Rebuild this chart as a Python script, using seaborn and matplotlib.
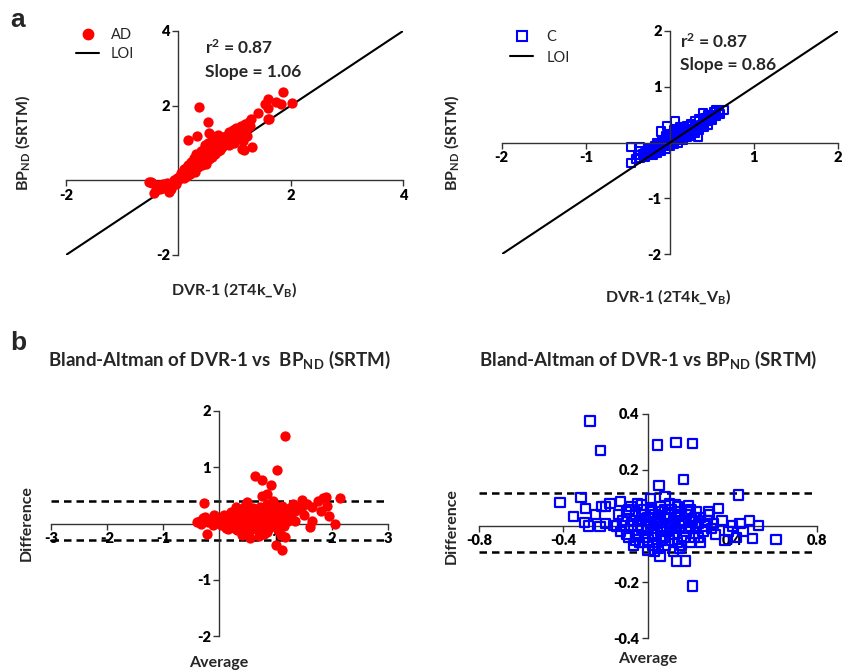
import matplotlib
matplotlib.use('Agg')
import matplotlib.pyplot as plt
from matplotlib.lines import Line2D
import seaborn as sns

# ---------------- data ----------------
# Panel a (left): AD, DVR-1 (2T4k_VB) vs BPND (SRTM)
AD_dvr = [-0.52, -0.49, -0.46, -0.43, -0.40, -0.38, -0.35, -0.32, -0.28, -0.25, -0.22, -0.20,
          -0.16, -0.15, -0.13, -0.10, -0.08, -0.05, -0.02, 0.00, 0.02, 0.05, 0.05, 0.08, 0.10,
          0.10, 0.12, 0.15, 0.15, 0.18, 0.18, 0.20, 0.22, 0.22, 0.25, 0.25, 0.28, 0.28, 0.30,
          0.30, 0.32, 0.33, 0.35, 0.35, 0.38, 0.38, 0.40, 0.40, 0.42, 0.43, 0.45, 0.45, 0.48,
          0.48, 0.50, 0.50, 0.52, 0.53, 0.55, 0.55, 0.58, 0.58, 0.60, 0.60, 0.62, 0.65, 0.65,
          0.68, 0.70, 0.70, 0.72, 0.75, 0.75, 0.78, 0.78, 0.80, 0.82, 0.85, 0.85, 0.88, 0.90,
          0.90, 0.92, 0.95, 0.95, 0.98, 1.00, 1.00, 1.02, 1.05, 1.05, 1.08, 1.10, 1.12, 1.15,
          1.15, 1.18, 1.20, 1.22, 1.25, 1.28, 1.30, 1.14, 1.17, 1.32, 1.41, 1.59, 1.62, 1.55,
          1.59, 1.74, 1.83, 1.87, 2.02, 1.60, 0.37, 0.53, 0.54, 0.58, 0.18, 0.34, 0.60, 0.70]
AD_bp = [-0.05, -0.04, -0.06, -0.33, -0.25, -0.18, -0.12, -0.22, -0.10, -0.20, -0.12, -0.06,
         -0.30, -0.12, -0.24, -0.05, 0.00, -0.10, 0.05, 0.02, 0.10, 0.08, 0.20, 0.15, 0.05,
         0.30, 0.22, 0.35, 0.12, 0.40, 0.25, 0.18, 0.50, 0.32, 0.45, 0.28, 0.60, 0.38, 0.50,
         0.22, 0.70, 0.42, 0.55, 0.35, 0.65, 0.45, 0.78, 0.58, 0.40, 0.70, 0.85, 0.52, 0.62,
         0.95, 0.75, 0.45, 1.00, 0.68, 0.85, 0.58, 0.92, 0.72, 0.62, 1.05, 0.80, 0.95, 0.70,
         0.88, 1.10, 0.78, 0.95, 1.00, 0.82, 1.15, 0.90, 1.05, 0.95, 1.20, 1.00, 1.10, 1.30,
         0.95, 1.15, 1.25, 1.05, 1.35, 1.15, 1.00, 1.40, 1.25, 1.10, 1.35, 1.20, 1.45, 1.30,
         1.05, 1.50, 1.35, 1.20, 1.55, 1.45, 1.65, 0.83, 0.81, 0.90, 1.81, 1.64, 1.64, 2.04,
         2.17, 2.10, 2.04, 2.37, 2.08, 1.95, 1.97, 1.55, 1.28, 1.01, 1.08, 1.20, 1.20, 1.22]
AD_loi = [-2, 4]

# Panel a (right): C
C_dvr = [-0.46, -0.35, -0.46, -0.40, -0.38, -0.35, -0.32, -0.30, -0.28, -0.27, -0.25, -0.24,
         -0.22, -0.20, -0.19, -0.18, -0.16, -0.15, -0.14, -0.12, -0.11, -0.10, -0.09, -0.08,
         -0.07, -0.06, -0.05, -0.04, -0.03, -0.03, -0.02, -0.01, 0.00, 0.01, 0.02, 0.03, 0.04,
         0.05, 0.06, 0.06, 0.07, 0.08, 0.09, 0.10, 0.11, 0.12, 0.13, 0.14, 0.15, 0.16, 0.17,
         0.18, 0.19, 0.20, 0.22, 0.24, 0.25, 0.27, 0.28, 0.30, 0.32, 0.34, 0.34, 0.35, 0.37,
         0.39, 0.40, 0.42, 0.44, 0.46, 0.48, 0.50, 0.53, 0.55, 0.58, 0.60, 0.64, -0.20, -0.10,
         0.00, 0.10, 0.20, 0.30, 0.40, 0.50,
         -0.30, -0.25, -0.15, -0.05, 0.05, 0.15, 0.25, 0.35, 0.45, -0.15, -0.05, 0.05, 0.15,
         0.25, 0.45, 0.55, -0.35, 0.12]
C_bp = [-0.08, -0.08, -0.37, -0.30, -0.22, -0.28, -0.20, -0.26, -0.15, -0.22, -0.18, -0.12,
        -0.20, -0.10, -0.16, -0.06, -0.14, -0.04, -0.10, -0.02, 0.20, -0.08, 0.02, -0.05,
        0.05, -0.02, 0.08, 0.00, 0.30, 0.10, 0.03, 0.12, 0.05, 0.00, 0.15, 0.06, 0.02,
        0.18, 0.38, 0.08, 0.04, 0.20, 0.10, 0.06, 0.22, 0.12, 0.08, 0.25, 0.14, 0.10, 0.28,
        0.16, 0.12, 0.30, 0.20, 0.16, 0.34, 0.24, 0.20, 0.38, 0.28, 0.11, 0.24, 0.42, 0.32,
        0.53, 0.36, 0.44, 0.38, 0.48, 0.42, 0.50, 0.55, 0.48, 0.55, 0.52, 0.59, -0.22, -0.14,
        -0.06, 0.00, 0.10, 0.18, 0.28, 0.40,
        -0.18, -0.10, -0.18, -0.12, -0.02, 0.05, 0.12, 0.22, 0.32, 0.00, 0.12, 0.22, 0.28,
        0.30, 0.50, 0.58, -0.15, 0.28]
C_loi = [-2, 2]

# Panel b (left): Bland-Altman AD
AD_avg = [1.17, 1.03, 0.64, 0.76, 0.91, 0.85, 0.76, -0.27, -0.22, -0.37, 1.00, 1.12, 1.16,
          2.14, 1.89, 1.84, 1.92, 1.95, 2.06, 1.65, 1.62, 1.47, 1.65, 0.49,
          -0.40, -0.33, -0.30, -0.25, -0.20, -0.15, -0.12, -0.10, -0.05, 0.00, 0.02, 0.05,
          0.08, 0.10, 0.12, 0.15, 0.18, 0.20, 0.22, 0.25, 0.28, 0.30, 0.32, 0.35, 0.38, 0.40,
          0.42, 0.45, 0.48, 0.50, 0.52, 0.55, 0.58, 0.60, 0.62, 0.65, 0.68, 0.70, 0.72, 0.75,
          0.78, 0.80, 0.82, 0.85, 0.88, 0.90, 0.92, 0.95, 0.98, 1.00, 1.02, 1.05, 1.08, 1.10,
          1.12, 1.15, 1.18, 1.20, 1.22, 1.25, 1.28, 1.30, 1.35, 1.40, 0.40, 0.55, 0.70, 0.30,
          0.60, 0.85, 1.10, 0.15, 0.45, 0.95, 1.75, 1.80, 1.55, 1.35,
          0.05, 0.12, 0.18, 0.25, 0.32, 0.38, 0.45, 0.52, 0.58, 0.62, 0.68, 0.72, 0.78, 0.82,
          0.88, 0.92, 0.98, 1.05, 1.12, 1.18, 1.25, 0.35, 0.55, 0.65, 0.75, 0.95, 1.15, 0.25,
          0.45, 0.85, -0.30, -0.35, 0.00, 1.45, 1.50]
AD_diff = [1.55, 0.95, 0.84, 0.77, 0.69, 0.53, 0.49, 0.36, -0.18, 0.02, -0.39, -0.47, -0.24,
           0.46, 0.47, 0.45, 0.32, 0.14, 0.00, 0.04, -0.07, 0.41, 0.29, 0.38,
           0.02, 0.00, 0.05, 0.12, 0.03, 0.08, -0.02, 0.15, 0.05, 0.10, -0.03, 0.08,
           0.15, 0.02, -0.08, 0.12, 0.05, 0.20, -0.05, 0.10, 0.02, 0.15, -0.12, 0.08, 0.25, 0.00,
           0.12, -0.08, 0.18, 0.05, -0.15, 0.10, 0.22, -0.02, 0.08, -0.10, 0.15, 0.02, 0.30, -0.05,
           0.12, -0.18, 0.20, 0.05, -0.08, 0.25, 0.10, -0.02, 0.15, 0.30, 0.05, -0.12, 0.20, 0.08,
           0.32, -0.05, 0.15, 0.25, 0.05, 0.28, 0.18, 0.35, 0.22, 0.30, -0.20, -0.25, -0.22, 0.30,
           0.28, 0.35, -0.20, -0.10, 0.32, 0.40, 0.40, 0.22, 0.35, 0.05,
           0.00, 0.05, -0.02, 0.05, 0.12, 0.05, 0.10, 0.02, 0.12, -0.05, 0.05, 0.12, 0.02, -0.08,
           0.12, 0.00, 0.08, 0.15, 0.02, 0.08, 0.12, -0.05, -0.08, 0.20, 0.18, 0.22, 0.25, -0.08,
           0.22, -0.15, 0.10, 0.05, 0.05, 0.25, 0.15]
AD_limits = [0.40, -0.29]

# Panel b (right): Bland-Altman C
C_avg = [-0.275, -0.224, 0.044, 0.133, 0.21, 0.167, 0.052, 0.427, -0.417, -0.317, -0.353, -0.30,
         -0.295, 0.606, 0.522, 0.496, 0.436, 0.364, 0.285, 0.333, 0.21, 0.136, 0.178, 0.057,
         0.0, -0.22, -0.18, -0.20, -0.13, -0.227, -0.20, -0.164, -0.03, 0.01, 0.08, 0.128, 0.19,
         -0.12, -0.10, -0.10, -0.08, -0.06, -0.06, -0.04, -0.02, -0.02, 0.00, 0.00, 0.02, 0.02,
         0.04, 0.04, 0.06, 0.06, 0.08, 0.08, 0.10, 0.10, 0.12, 0.12, 0.14, 0.14, 0.16, 0.18,
         0.18, 0.20, 0.22, 0.22, 0.24, 0.26, 0.28, 0.30, 0.05, 0.15, 0.25, -0.05, 0.10, 0.20,
         0.32, 0.38, 0.40, 0.45, 0.48, 0.42, 0.35, -0.25, -0.28, -0.15, -0.08, 0.03, 0.12,
         -0.14, -0.13, -0.11, -0.09, -0.09, -0.07, -0.07, -0.05, -0.05, -0.03, -0.03, -0.01,
         -0.01, 0.01, 0.01, 0.03, 0.03, 0.05, 0.05, 0.07, 0.07, 0.09, 0.09, 0.11, 0.11, 0.13,
         0.13, 0.15, 0.15, 0.17, 0.17, 0.19, 0.19, 0.21, 0.23, 0.23, 0.25, 0.27, 0.29, 0.31,
         0.02, 0.08, 0.16, 0.20, 0.06, 0.14, 0.24, 0.00, -0.04, 0.10]
C_diff = [0.375, 0.269, 0.289, 0.299, 0.295, 0.167, 0.144, 0.111, 0.085, 0.102, 0.033, 0.012,
          0.063, -0.048, 0.001, -0.044, 0.010, -0.050, 0.051, 0.063, -0.214, -0.125, -0.125, -0.107,
          -0.088, 0.069, 0.081, 0.070, 0.087, -0.002, 0.010, 0.003, 0.075, 0.099, 0.105, 0.075, 0.073,
          0.02, -0.03, 0.05, 0.00, -0.05, 0.04, 0.02, -0.06, 0.06, 0.00, 0.03, -0.03, 0.05,
          0.01, -0.06, 0.03, -0.02, 0.06, -0.04, 0.00, 0.04, -0.03, 0.02, 0.05, -0.06, 0.01, -0.02,
          0.04, 0.00, -0.04, 0.03, 0.01, -0.02, 0.02, -0.01, -0.08, -0.08, -0.06, 0.08, 0.08, 0.06,
          -0.03, -0.02, 0.00, -0.02, 0.02, -0.04, 0.02, 0.04, 0.00, 0.00, 0.07, -0.09, -0.09,
          0.04, -0.02, 0.00, 0.06, -0.04, 0.02, -0.07, 0.00, -0.03, 0.04, -0.01, 0.02,
          -0.04, 0.06, 0.01, -0.01, 0.04, 0.02, 0.05, 0.00, -0.05, 0.03, -0.02, 0.06, 0.01, -0.01,
          0.03, 0.00, 0.04, -0.04, 0.02, 0.05, -0.01, 0.02, 0.00, 0.05, 0.03, 0.00, 0.04, 0.01,
          -0.07, -0.07, -0.07, -0.06, 0.07, 0.07, -0.04, -0.05, -0.06, -0.05]
C_limits = [0.117, -0.094]

# ticks
AD_ticks = [-2, 2, 4]
C_ticks = [-2, -1, 1, 2]
ADba_xticks = [-3, -2, -1, 1, 2, 3]
ADba_yticks = [-2, -1, 1, 2]
Cba_xticks = [-0.8, -0.4, 0.4, 0.8]
Cba_xlabels = ['-0.8', '-0.4', '0.4', '0.8']
Cba_yticks = [-0.4, -0.2, 0.2, 0.4]
Cba_ylabels = ['-0.4', '-0.2', '0.2', '0.4']

# ---------------- style ----------------
sns.set_style('white')
plt.rcParams['font.family'] = ['Lato', 'DejaVu Sans']
plt.rcParams['font.weight'] = 'bold'
plt.rcParams['axes.labelweight'] = 'bold'
plt.rcParams['mathtext.fontset'] = 'custom'
plt.rcParams['mathtext.rm'] = 'Lato:bold'
plt.rcParams['mathtext.it'] = 'Lato:bold'
plt.rcParams['mathtext.bf'] = 'Lato:bold'
plt.rcParams['mathtext.default'] = 'rm'

W, H = 843, 670
fig = plt.figure(figsize=(W / 100, H / 100), dpi=100)


def px_axes(x0, y0, x1, y1):
    return fig.add_axes([x0 / W, 1 - y1 / H, (x1 - x0) / W, (y1 - y0) / H])


def style(ax, xlim, ylim, xt, xl, yt, yl):
    ax.set_xlim(xlim)
    ax.set_ylim(ylim)
    ax.grid(False)
    for s in ['top', 'right']:
        ax.spines[s].set_visible(False)
    for s in ['left', 'bottom']:
        ax.spines[s].set_position(('data', 0))
        ax.spines[s].set_color('#333333')
        ax.spines[s].set_linewidth(1.0)
        ax.spines[s].set_zorder(2)
    ax.set_xticks(xt)
    ax.set_xticklabels(xl, fontweight='heavy')
    ax.set_yticks(yt)
    ax.set_yticklabels(yl, fontweight='heavy')
    ax.tick_params(bottom=True, left=True, direction='out', length=4, width=1,
                   color='#333333', labelcolor='black', labelsize=10.5, pad=2)
    ax.set_facecolor('none')


# ----- a left -----
ax1 = px_axes(66, 31, 403, 255)
sns.lineplot(x=AD_loi, y=AD_loi, ax=ax1, color='black', linewidth=1.5, zorder=2)
sns.scatterplot(x=AD_dvr, y=AD_bp, ax=ax1, color='#ff0000', s=55, linewidth=0, zorder=3, legend=False)
style(ax1, (-2, 4), (-2, 4), AD_ticks, [str(t) for t in AD_ticks], AD_ticks, [str(t) for t in AD_ticks])
ax1.set_xlabel('DVR-1 (2T4k_V$_{B}$)', fontsize=11.5, fontweight='bold', ha='center', va='center')
ax1.xaxis.set_label_coords(0.50, -0.156)
ax1.set_ylabel('BP$_{ND}$ (SRTM)', fontsize=11.5, fontweight='bold', ha='center', va='center')
ax1.yaxis.set_label_coords(-0.13, 0.5)
h1 = [Line2D([], [], marker='o', color='#ff0000', ls='none', markersize=7.5),
      Line2D([], [], color='black', lw=1.5)]
ax1.legend(h1, ['AD', 'LOI'], loc='upper left', bbox_to_anchor=(76 / W, 1 - 28 / H),
           bbox_transform=fig.transFigure, frameon=False, borderpad=0, borderaxespad=0,
           handlelength=1.6, handletextpad=0.8, labelspacing=0.35,
           prop={'weight': 'normal', 'size': 10.5})
fig.text(205 / W, 1 - 48 / H, 'r$^{2}$ = 0.87', fontsize=12.5, va='center', ha='left')
fig.text(205 / W, 1 - 72 / H, 'Slope = 1.06', fontsize=12.5, va='center', ha='left')

# ----- a right -----
ax2 = px_axes(501.7, 31, 838, 254.3)
sns.scatterplot(x=C_dvr, y=C_bp, ax=ax2, marker='s', s=34, facecolors='none',
                edgecolor='#0000ff', linewidth=1.5, zorder=2, legend=False)
sns.lineplot(x=C_loi, y=C_loi, ax=ax2, color='black', linewidth=1.5, zorder=3)
style(ax2, (-2, 2), (-2, 2), C_ticks, [str(t) for t in C_ticks], C_ticks, [str(t) for t in C_ticks])
ax2.set_xlabel('DVR-1 (2T4k_V$_{B}$)', fontsize=11.5, fontweight='bold', ha='center', va='center')
ax2.xaxis.set_label_coords(0.494, -0.19)
ax2.set_ylabel('BP$_{ND}$ (SRTM)', fontsize=11.5, fontweight='bold', ha='center', va='center')
ax2.yaxis.set_label_coords(-0.148, 0.5)
h2 = [Line2D([], [], marker='s', markerfacecolor='none', markeredgecolor='#0000ff',
             markeredgewidth=1.5, ls='none', markersize=6.5),
      Line2D([], [], color='black', lw=1.5)]
ax2.legend(h2, ['C', 'LOI'], loc='upper left', bbox_to_anchor=(510 / W, 1 - 30 / H),
           bbox_transform=fig.transFigure, frameon=False, borderpad=0, borderaxespad=0,
           handlelength=1.6, handletextpad=0.9, labelspacing=0.45,
           prop={'weight': 'normal', 'size': 10.5})
fig.text(680 / W, 1 - 42 / H, 'r$^{2}$ = 0.87', fontsize=12.5, va='center', ha='left')
fig.text(680 / W, 1 - 65 / H, 'Slope = 0.86', fontsize=12.5, va='center', ha='left')

# ----- b left -----
ax3 = px_axes(51, 411, 388, 636)
for v in AD_limits:
    ax3.axhline(v, color='black', linewidth=1.8, linestyle=(0, (3, 2)), zorder=2)
sns.scatterplot(x=AD_avg, y=AD_diff, ax=ax3, color='#ff0000', s=55, linewidth=0, zorder=3, legend=False)
style(ax3, (-3, 3), (-2, 2), ADba_xticks, [str(t) for t in ADba_xticks],
      ADba_yticks, [str(t) for t in ADba_yticks])
ax3.set_xlabel('Average', fontsize=11.5, fontweight='bold', ha='center', va='center')
ax3.xaxis.set_label_coords(0.498, -0.12)
ax3.set_ylabel('Difference', fontsize=11.5, fontweight='bold', ha='center', va='center')
ax3.yaxis.set_label_coords(-0.071, 0.5)
ax3.text(0.501, 1.227, 'Bland-Altman of DVR-1 vs  BP$_{ND}$ (SRTM)', transform=ax3.transAxes,
         fontsize=13.5, ha='center', va='center')

# ----- b right -----
ax4 = px_axes(479, 414, 817, 638)
for v in C_limits:
    ax4.axhline(v, color='black', linewidth=1.8, linestyle=(0, (3, 2)), zorder=2)
sns.scatterplot(x=C_avg, y=C_diff, ax=ax4, marker='s', s=44, facecolors='none',
                edgecolor='#0000ff', linewidth=1.6, zorder=3, legend=False)
style(ax4, (-0.8, 0.8), (-0.4, 0.4), Cba_xticks, Cba_xlabels, Cba_yticks, Cba_ylabels)
ax4.set_xlabel('Average', fontsize=11.5, fontweight='bold', ha='center', va='center')
ax4.xaxis.set_label_coords(0.5, -0.094)
ax4.set_ylabel('Difference', fontsize=11.5, fontweight='bold', ha='center', va='center')
ax4.yaxis.set_label_coords(-0.08, 0.5)
ax4.text(0.5, 1.241, 'Bland-Altman of DVR-1 vs BP$_{ND}$ (SRTM)', transform=ax4.transAxes,
         fontsize=13.5, ha='center', va='center')

# panel letters
fig.text(18 / W, 1 - 20 / H, 'a', fontsize=19, weight='bold', family='Liberation Sans',
         ha='center', va='center')
fig.text(18 / W, 1 - 343 / H, 'b', fontsize=19, weight='bold', family='Liberation Sans',
         ha='center', va='center')

fig.savefig('out.png', dpi=100)
